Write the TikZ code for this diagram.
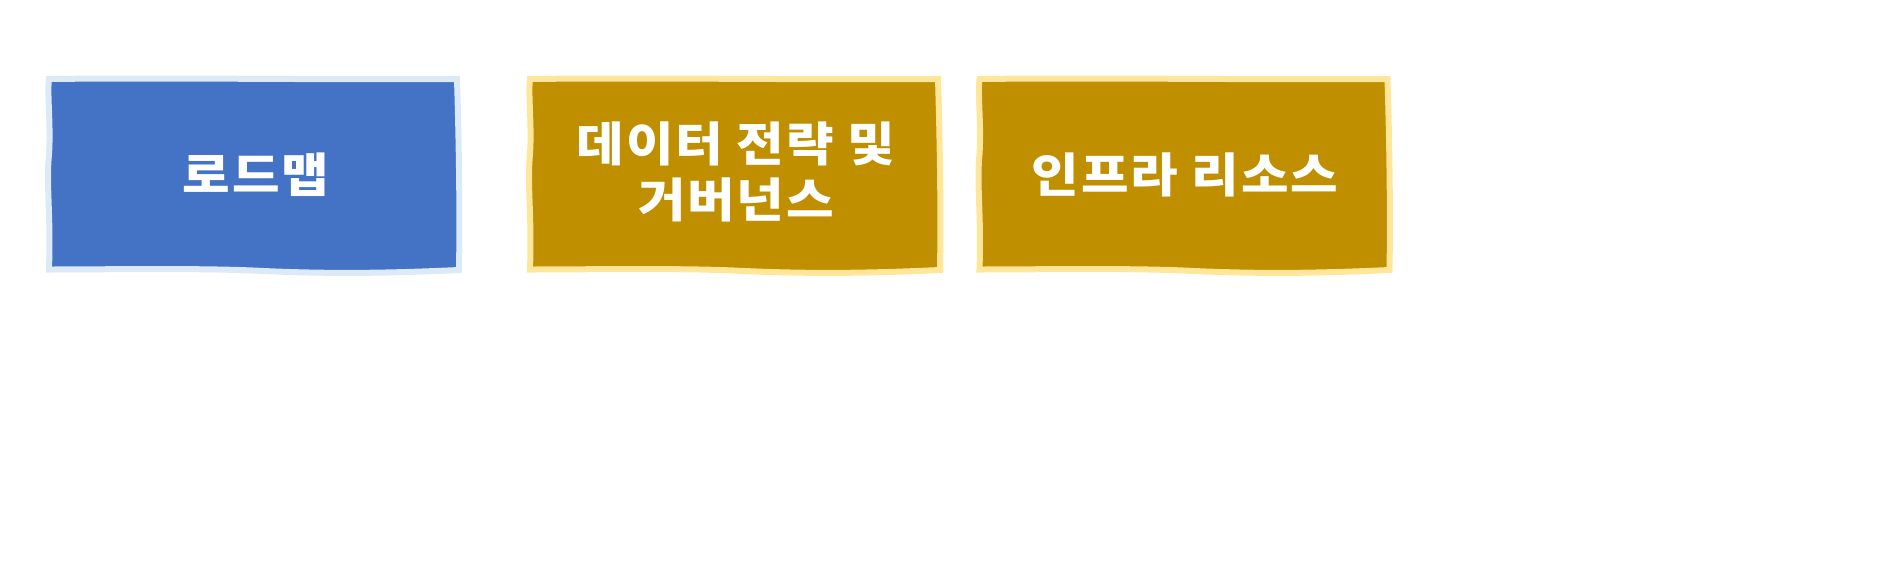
\documentclass[tikz,border=0pt]{standalone}
\usepackage{fontspec}
\newfontfamily\kr[FakeStretch=1.1,LetterSpace=4]{Noto Sans CJK KR}
\usetikzlibrary{backgrounds}
\definecolor{bluefill}{HTML}{4472C4}
\definecolor{blueedge}{HTML}{DCE9F6}
\definecolor{goldfill}{HTML}{BF8F00}
\definecolor{goldedge}{HTML}{FFE69A}
\tikzset{
  label/.style={text=white, font=\kr\bfseries\fontsize{47}{56}\selectfont, align=center, inner sep=0pt},
  wavy/.pic={
    \path[pic actions]
      (-204,95.5) .. controls (-80,97) and (80,94.5) .. (204,95.5)
      .. controls (206,30) and (207,-40) .. (206,-95.5)
      .. controls (130,-99) and (70,-99.5) .. (0,-96)
      .. controls (-60,-93.5) and (-150,-95) .. (-204,-95)
      .. controls (-202,-40) and (-207,-10) .. (-204,20)
      .. controls (-202,50) and (-206,80) .. cycle;
  },
  bluebox/.style={fill=bluefill, draw=blueedge, line width=6pt},
  goldbox/.style={fill=goldfill, draw=goldedge, line width=6pt}
}
\begin{document}
\begin{tikzpicture}[x=1pt,y=1pt]
\useasboundingbox (0,0) rectangle (1899,-560);
\node[label] (roadmap) at (256,-174.5) {로드맵};
\node[label] (data) at (736,-172) {데이터 전략 및\\거버넌스};
\node[label] (infra) at (1185,-174.5) {인프라 리소스};
\begin{scope}[on background layer]
  \pic[bluebox] at (253,-174.5) {wavy};
  \pic[goldbox] at (734,-174.5) {wavy};
  \pic[goldbox] at (1183.5,-174.5) {wavy};
\end{scope}
\end{tikzpicture}
\end{document}
